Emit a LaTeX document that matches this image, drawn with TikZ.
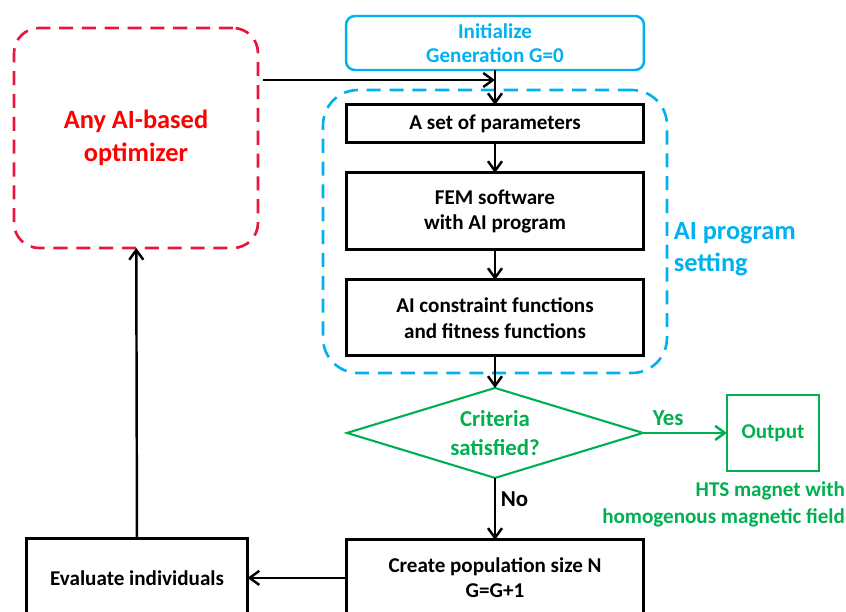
\documentclass[tikz,border=0pt]{standalone}
\usepackage{fontspec}
\setmainfont{Carlito}
\usetikzlibrary{positioning,shapes.geometric,arrows.meta}
\definecolor{aired}{RGB}{232,22,62}
\definecolor{aiblue}{RGB}{0,176,240}
\definecolor{aigreen}{RGB}{0,176,80}
\tikzset{
	every node/.append style = {outer sep=0pt},
	stepbox/.style = {draw, line width=1.7pt, minimum width=5.94cm, minimum height=1.52cm,
	 align=center, font=\bfseries\fontsize{12}{14.5}\selectfont},
	flow/.style = {-{Straight Barb[length=5.5pt,width=8pt]}, line width=1.4pt},
	dashbox/.style = {draw, dash pattern=on 8pt off 5pt, line width=1.5pt},
}

\begin{document}
\begin{tikzpicture}[x=0.02cm, y=-0.02cm, node distance=0.6cm]
\useasboundingbox (0,0) rectangle (846,612);
\clip (0,0) rectangle (846,612);

% NODES
% main column
\node (init) [draw=aiblue, line width=1.4pt, rounded corners=5pt, minimum width=5.96cm,
  minimum height=1.08cm, align=center, text=aiblue, font=\bfseries\fontsize{12}{14}\selectfont]
  at (495,43) {Initialize\\Generation G=0};
\node (params) [stepbox, minimum height=0.76cm, below=0.7cm of init] {A set of parameters};
\node (fem) [stepbox, minimum height=1.54cm, below=of params] {FEM software\\with AI program};
\node (fit) [stepbox, below=of fem] {AI constraint functions\\and fitness functions};
% AI program setting
\node (setting) [dashbox, draw=aiblue, rounded corners=0.7cm, minimum width=6.88cm,
  minimum height=5.66cm] at (495,231.5) {};
\node (setlabel) [anchor=west, align=left, text=aiblue, font=\bfseries\fontsize{15}{18}\selectfont]
  at (668,249) {AI program\\setting};
% decision
\node (crit) [diamond, draw=aigreen, line width=1.2pt, inner sep=0pt, aspect=3.3,
  minimum width=5.92cm, minimum height=1.8cm, below=0.64cm of fit, align=center,
  text=aigreen, font=\bfseries\fontsize{13}{16.5}\selectfont] {Criteria\\satisfied?};
\node (out) [draw=aigreen, line width=1.2pt, minimum width=1.84cm, minimum height=1.52cm,
  right=1.68cm of crit, text=aigreen, font=\bfseries\fontsize{12}{14}\selectfont] {Output};
\node (hts) [anchor=north east, inner sep=0pt, align=right, text=aigreen,
  font=\bfseries\fontsize{12}{15.3}\selectfont] at (845,482)
  {HTS magnet with\\homogenous magnetic field};
% loop
\node (create) [stepbox, below=1.24cm of crit] {Create population size N\\G=G+1};
\node (eval) [stepbox, minimum width=4.42cm, minimum height=1.56cm, left=1.98cm of create]
  {Evaluate individuals};
\node (ai) [dashbox, draw=aired, rounded corners=0.5cm, minimum width=4.88cm,
  minimum height=4.4cm, align=center, text=red, font=\bfseries\fontsize{15}{19}\selectfont]
  at (136,138) {Any AI-based\\optimizer};
\coordinate (join) at ([yshift=-0.2cm]init.south);

%CONNECTIONS
\draw [flow] (init) -- (params);
\draw [flow, shorten <=3pt] (ai.east |- join) -- (join);
\draw [flow] (params) -- (fem);
\draw [flow] (fem) -- (fit);
\draw [flow] (fit) -- (crit);
\draw [flow, draw=aigreen] (crit) -- node [pos=0.3, above=1pt, text=aigreen,
  font=\bfseries\fontsize{13}{15}\selectfont] {Yes} (out);
\draw [flow] (crit) -- node [pos=0.35, right, font=\bfseries\fontsize{13}{15}\selectfont] {No} (create);
\draw [flow] (create) -- (eval);
\draw [flow] (eval) -- (ai);

\end{tikzpicture}
\end{document}
